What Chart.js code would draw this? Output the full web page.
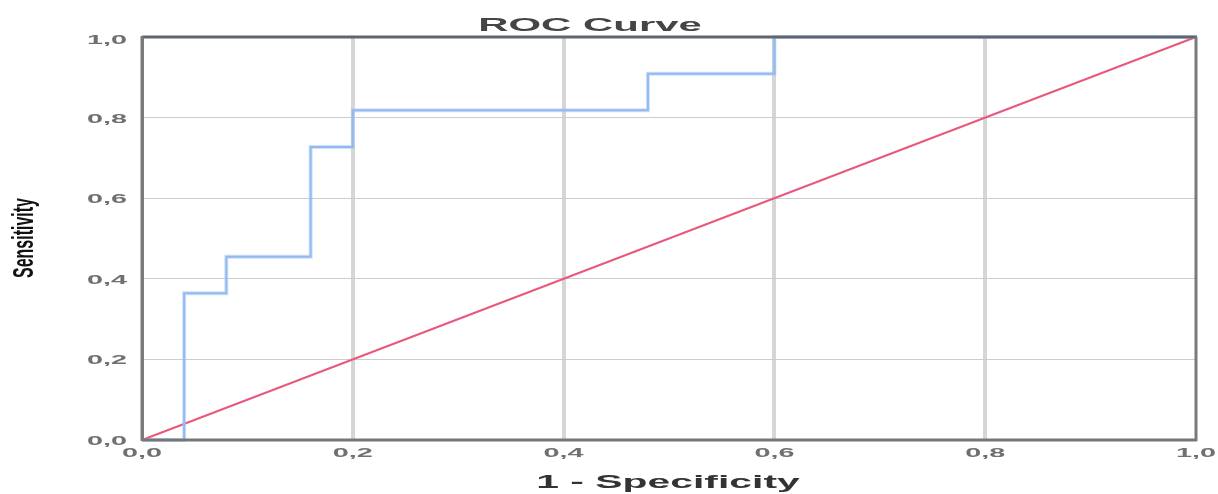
<!DOCTYPE html>
<html>
<head>
<meta charset="utf-8">
<script src="https://cdn.jsdelivr.net/npm/chart.js@4/dist/chart.umd.min.js"></script>
<style>
  html, body { margin: 0; padding: 0; background: #ffffff; }
  #c { display: block; }
</style>
</head>
<body>
<canvas id="c" width="1218" height="494"></canvas>
<script>
// ---- data ----
const fpr = [0, 0.04, 0.08, 0.16, 0.20, 0.48, 0.60, 1.00];          // 1 - Specificity
const tpr = [0, 0.364, 0.455, 0.727, 0.818, 0.909, 1.00, 1.00];    // Sensitivity
const refX = [0, 1];
const refY = [0, 1];
const tickValues = [0, 0.2, 0.4, 0.6, 0.8, 1.0];
const tickLabels = ['0,0', '0,2', '0,4', '0,6', '0,8', '1,0'];
const chartTitle = 'ROC Curve';
const xTitle = '1 - Specificity';
const yTitle = 'Sensitivity';

const rocPoints = fpr.map((x, i) => ({ x: x, y: tpr[i] }));
const refPoints = refX.map((x, i) => ({ x: x, y: refY[i] }));

function stretchText(ctx, text, x, y, sx, font, color, align) {
  ctx.save();
  ctx.translate(x, y);
  ctx.scale(sx, 1);
  ctx.font = font;
  ctx.fillStyle = color;
  ctx.textAlign = align;
  ctx.textBaseline = 'alphabetic';
  ctx.fillText(text, 0, 0);
  ctx.restore();
}

const decor = {
  id: 'decor',
  afterDraw(chart) {
    const ctx = chart.ctx;
    const a = chart.chartArea;
    const xs = chart.scales.x, ys = chart.scales.y;
    ctx.save();
    // top frame
    ctx.strokeStyle = '#5f6672';
    ctx.lineWidth = 3;
    ctx.beginPath(); ctx.moveTo(a.left, a.top); ctx.lineTo(a.right + 1, a.top); ctx.stroke();
    // bottom axis (over the curve)
    ctx.strokeStyle = '#767676';
    ctx.lineWidth = 3;
    ctx.beginPath(); ctx.moveTo(a.left, a.bottom); ctx.lineTo(a.right + 1, a.bottom); ctx.stroke();
    // right frame
    ctx.strokeStyle = '#7a7a7a';
    ctx.lineWidth = 3;
    ctx.beginPath(); ctx.moveTo(a.right, a.top); ctx.lineTo(a.right, a.bottom + 1); ctx.stroke();
    // left axis
    ctx.beginPath(); ctx.moveTo(a.left, a.top - 1); ctx.lineTo(a.left, a.bottom + 1); ctx.stroke();
    ctx.restore();
    // redraw diagonal end segments so it sits over the frame near the corners
    // tick labels
    const tf = 'bold 12px "Liberation Sans", Arial, sans-serif';
    tickValues.forEach((v, i) => {
      const px = xs.getPixelForValue(v);
      stretchText(ctx, tickLabels[i], px, 457, 2.4, tf, '#707070', 'center');
      const py = ys.getPixelForValue(v);
      stretchText(ctx, tickLabels[i], 127, py + (v === 1 ? 7 : 5), 2.4, tf, '#707070', 'right');
    });
    // titles
    stretchText(ctx, chartTitle, 590, 31, 2.33, 'bold 18px "Liberation Sans", Arial, sans-serif', '#454545', 'center');
    stretchText(ctx, xTitle, 668, 488, 2.27, 'bold 18px "Liberation Sans", Arial, sans-serif', '#333333', 'center');
    ctx.save();
    ctx.translate(33, 238);
    ctx.rotate(-Math.PI / 2);
    ctx.scale(1, 1.85);
    ctx.font = 'bold 16px "Liberation Sans", Arial, sans-serif';
    ctx.fillStyle = '#111111';
    ctx.textAlign = 'center';
    ctx.textBaseline = 'alphabetic';
    ctx.fillText(yTitle, 0, 0);
    ctx.restore();
  }
};

new Chart(document.getElementById('c'), {
  type: 'scatter',
  data: {
    datasets: [
      { data: rocPoints, showLine: true, stepped: 'before', borderColor: 'rgba(160,196,244,0.5)', borderWidth: 4, pointRadius: 0, clip: 6 },
      { data: rocPoints, showLine: true, stepped: 'before', borderColor: '#85b0ef', borderWidth: 2, pointRadius: 0, clip: 6 },
      { data: refPoints, showLine: true, borderColor: '#e8587c', borderWidth: 2, pointRadius: 0, clip: 6 }
    ]
  },
  options: {
    responsive: false,
    devicePixelRatio: 1,
    animation: false,
    layout: { padding: { left: 142, top: 37, right: 22, bottom: 54 } },
    plugins: { legend: { display: false }, title: { display: false }, tooltip: { enabled: false } },
    scales: {
      x: {
        type: 'linear', min: 0, max: 1,
        afterBuildTicks: s => { s.ticks = tickValues.map(v => ({ value: v })); },
        afterFit: s => { s.height = 0; },
        ticks: { display: false },
        grid: {
          drawTicks: false,
          color: 'rgba(200,200,200,0.75)',
          lineWidth: c => (c.tick && (c.tick.value === 0 || c.tick.value === 1)) ? 0 : 4
        },
        border: { display: true, color: '#7a7a7a', width: 2 }
      },
      y: {
        type: 'linear', min: 0, max: 1,
        afterBuildTicks: s => { s.ticks = tickValues.map(v => ({ value: v })); },
        afterFit: s => { s.width = 0; },
        ticks: { display: false },
        grid: {
          drawTicks: false,
          color: '#cdcdcd',
          lineWidth: c => (c.tick && (c.tick.value === 0 || c.tick.value === 1)) ? 0 : 1
        },
        border: { display: true, color: '#7a7a7a', width: 3 }
      }
    }
  },
  plugins: [decor]
});
</script>
</body>
</html>
